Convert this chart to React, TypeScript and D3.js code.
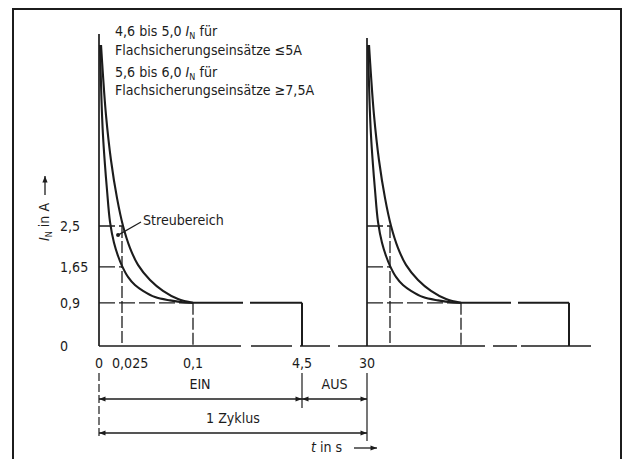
import React from "react";
import * as d3 from "d3";

// ---- data ----
const timeBreaks = [0, 0.025, 0.1, 4.5, 30, 30.025, 30.1, 34.5];
const xTickValues = [0, 0.025, 0.1, 4.5, 30];
const xTickLabels = ["0", "0,025", "0,1", "4,5", "30"];
const yTickValues = [0, 0.9, 1.65, 2.5];
const yTickLabels = ["0", "0,9", "1,65", "2,5"];
const cycleStarts = [0, 30];
const onTime = 4.5;
const cycleTime = 30;
const holdCurrent = 0.9;
const axisTop = 6.5;
const outerTimes = [0.0022, 0.0043, 0.0076, 0.013, 0.0196, 0.0261, 0.0335, 0.0419, 0.0546, 0.0683, 0.0842, 0.1];
const outerCurrents = [6.27, 5.65, 4.81, 3.875, 3.08, 2.5, 2.04, 1.69, 1.375, 1.15, 0.98, 0.9];
const innerTimes = [0.0011, 0.0027, 0.0043, 0.0065, 0.0087, 0.012, 0.0163, 0.0207, 0.025, 0.0313, 0.0387, 0.0472, 0.0599, 0.0757, 0.0915, 0.1];
const innerCurrents = [6.27, 5.125, 4.4, 3.77, 3.25, 2.58, 2.15, 1.875, 1.67, 1.44, 1.27, 1.15, 1.02, 0.95, 0.906, 0.9];
const guideTimes = [0.025, 0.025, 0.1];
const guideCurrents = [2.5, 1.65, 0.9];
const noteLines = [
  "4,6 bis 5,0 |für",
  "Flachsicherungseinsätze ≤5A",
  "5,6 bis 6,0 |für",
  "Flachsicherungseinsätze ≥7,5A",
];
const streuPoint: [number, number] = [0.0207, 2.31];

const FONT = "'DejaVu Sans Condensed', 'DejaVu Sans', sans-serif";
const INK = "#1c1c1c";
const FS = 14.1;

export default function App() {
  const W = 623, H = 459;
  const x = d3.scaleLinear().domain(timeBreaks).range([99, 122, 193, 302, 367, 390, 461, 569]);
  const y = d3.scaleLinear().domain([0, axisTop]).range([346, 34]);
  const line = d3.line<[number, number]>().x(d => x(d[0])).y(d => y(d[1])).curve(d3.curveCatmullRom.alpha(0.5));

  const outer: [number, number][] = outerTimes.map((t, i) => [t, outerCurrents[i]]);
  const inner: [number, number][] = innerTimes.map((t, i) => [t, innerCurrents[i]]);

  const renderNote = (s: string, i: number) => {
    const baseY = [36, 55, 77, 95][i];
    if (s.includes("|")) {
      const [a, b] = s.split("|");
      return (
        <text key={i} x={115} y={baseY} fontSize={FS} fontFamily={FONT} fill={INK}>
          {a}<tspan fontStyle="italic">I</tspan><tspan fontSize={9} dy={3}>N</tspan><tspan dy={-3}> {b}</tspan>
        </text>
      );
    }
    return <text key={i} x={115} y={baseY} fontSize={FS} fontFamily={FONT} fill={INK}>{s}</text>;
  };

  const baseEnd = x(cycleTime + onTime) + 22;

  return (
    <svg width={W} height={H} style={{ position: "absolute", left: 0, top: 0, background: "#fff" }}>
      <defs>
        <marker id="arrE" viewBox="0 0 10 10" refX="10" refY="5" markerWidth="7" markerHeight="5" orient="auto">
          <path d="M0,1 L10,5 L0,9 z" fill={INK} />
        </marker>
        <marker id="arrS" viewBox="0 0 10 10" refX="0" refY="5" markerWidth="7" markerHeight="5" orient="auto">
          <path d="M10,1 L0,5 L10,9 z" fill={INK} />
        </marker>
      </defs>
      <rect x={0} y={0} width={W} height={H} fill="#fff" />
      <path d={`M13,${H + 5} L13,9 L621,9 L621,${H + 5}`} fill="none" stroke={INK} strokeWidth={2} />

      {noteLines.map(renderNote)}

      <line x1={x(0)} x2={baseEnd} y1={y(0)} y2={y(0)} stroke={INK} strokeWidth={1.6}
        strokeDasharray="142 10 41 8 30 8 147 8 24 4 90" />

      {cycleStarts.map((c, ci) => (
        <g key={ci}>
          <line x1={x(c)} x2={x(c)} y1={y(axisTop) + ci * 4} y2={y(0)} stroke={INK} strokeWidth={1.7} />
          {guideTimes.map((t, i) => (
            <g key={i}>
              <line x1={x(c)} x2={x(c + t)} y1={y(guideCurrents[i])} y2={y(guideCurrents[i])}
                stroke={INK} strokeWidth={1.3} strokeDasharray="16 4" />
              {i !== 1 && (
                <line x1={x(c + t)} x2={x(c + t)} y1={y(guideCurrents[i])} y2={y(0)}
                  stroke={INK} strokeWidth={1.3} strokeDasharray="12 3" />
              )}
            </g>
          ))}
          <line x1={x(c + 0.1)} x2={x(c + onTime)} y1={y(holdCurrent)} y2={y(holdCurrent)}
            stroke={INK} strokeWidth={2} strokeDasharray="50 7 200" />
          <line x1={x(c + onTime)} x2={x(c + onTime)} y1={y(holdCurrent)} y2={y(0)}
            stroke={INK} strokeWidth={2} />
          <path d={line(outer.map(d => [c + d[0], d[1]]) as [number, number][]) || ""}
            fill="none" stroke={INK} strokeWidth={2.1} />
          <path d={line(inner.map(d => [c + d[0], d[1]]) as [number, number][]) || ""}
            fill="none" stroke={INK} strokeWidth={2.1} />
        </g>
      ))}

      <text x={143} y={225} fontSize={FS} fontFamily={FONT} fill={INK}>Streubereich</text>
      <line x1={141} y1={222} x2={x(streuPoint[0])} y2={y(streuPoint[1])} stroke={INK} strokeWidth={1.2} />
      <circle cx={x(streuPoint[0])} cy={y(streuPoint[1])} r={2} fill={INK} />

      {yTickValues.map((v, i) => (
        <text key={i} x={60} y={y(v)} dy="0.35em" fontSize={FS} fontFamily={FONT} fill={INK}>{yTickLabels[i]}</text>
      ))}
      <g transform={`translate(49,241) rotate(-90)`}>
        <text x={0} y={0} fontSize={FS} fontFamily={FONT} fill={INK}>
          <tspan fontStyle="italic">I</tspan><tspan fontSize={9} dy={3}>N</tspan><tspan dy={-3}> in A</tspan>
        </text>
        <line x1={46} x2={65} y1={-4} y2={-4} stroke={INK} strokeWidth={1.3} markerEnd="url(#arrE)" />
      </g>

      {xTickValues.map((v, i) => (
        <text key={i} x={i === 1 ? x(v) - 10 : x(v)} y={368} textAnchor={i === 1 ? "start" : "middle"}
          fontSize={FS} fontFamily={FONT} fill={INK}>{xTickLabels[i]}</text>
      ))}

      <line x1={x(0)} x2={x(0)} y1={373} y2={438} stroke={INK} strokeWidth={1.2} strokeDasharray="8 3" />
      <line x1={x(onTime)} x2={x(onTime)} y1={373} y2={408} stroke={INK} strokeWidth={1.2} />
      <line x1={x(cycleTime)} x2={x(cycleTime)} y1={373} y2={441} stroke={INK} strokeWidth={1.2} />

      <text x={200} y={389} textAnchor="middle" fontSize={FS} fontFamily={FONT} fill={INK}>EIN</text>
      <line x1={x(0)} x2={x(onTime)} y1={399} y2={399} stroke={INK} strokeWidth={1.3}
        markerStart="url(#arrS)" markerEnd="url(#arrE)" />
      <text x={(x(onTime) + x(cycleTime)) / 2} y={389} textAnchor="middle" fontSize={FS} fontFamily={FONT} fill={INK}>AUS</text>
      <line x1={x(onTime)} x2={x(cycleTime)} y1={399} y2={399} stroke={INK} strokeWidth={1.3}
        markerStart="url(#arrS)" markerEnd="url(#arrE)" />
      <text x={(x(0) + x(cycleTime)) / 2} y={423} textAnchor="middle" fontSize={FS} fontFamily={FONT} fill={INK}>1 Zyklus</text>
      <line x1={x(0)} x2={x(cycleTime)} y1={433} y2={433} stroke={INK} strokeWidth={1.3}
        markerStart="url(#arrS)" markerEnd="url(#arrE)" />

      <text x={311} y={452} fontSize={FS} fontFamily={FONT} fill={INK}>
        <tspan fontStyle="italic">t</tspan> in s
      </text>
      <line x1={354} x2={377} y1={448} y2={448} stroke={INK} strokeWidth={1.3} markerEnd="url(#arrE)" />
    </svg>
  );
}
